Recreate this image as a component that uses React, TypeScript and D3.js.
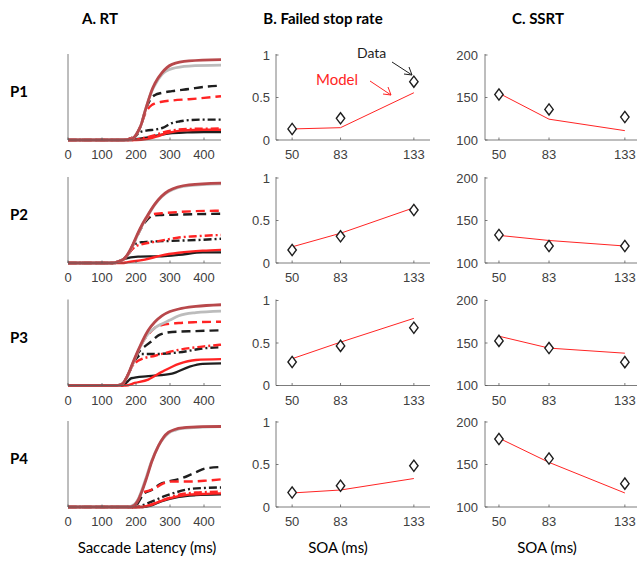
import React from "react";
import * as d3 from "d3";

// ---------- DATA ----------
const rowLabels = ["P1", "P2", "P3", "P4"];
const titles = ["A. RT", "B. Failed stop rate", "C. SSRT"];
const latencyTicks = [0, 100, 200, 300, 400];
const soaTicks = [50, 83, 133];
const rateTicks = [0, 0.5, 1];
const ssrtTicks = [100, 150, 200];

// RT cumulative curves, [latency ms, cumulative proportion]
const p1NoStopData = [[0,0],[160,0],[185,0.01],[196,0.04],[206,0.1],[216,0.19],[226,0.33],[236,0.46],[246,0.57],[256,0.65],[276,0.77],[306,0.84],[356,0.87],[450,0.88]];
const p1NoStopModel = [[0,0],[160,0],[185,0.01],[196,0.04],[206,0.1],[216,0.19],[226,0.33],[236,0.46],[246,0.58],[256,0.67],[276,0.79],[306,0.89],[356,0.93],[450,0.945]];
const p1Soa133Data = [[0,0],[160,0],[196,0.04],[206,0.1],[216,0.19],[226,0.33],[236,0.43],[246,0.5],[256,0.53],[276,0.555],[306,0.575],[356,0.6],[400,0.625],[450,0.64]];
const p1Soa133Model = [[0,0],[160,0],[196,0.04],[206,0.1],[216,0.19],[226,0.3],[236,0.37],[246,0.41],[256,0.43],[276,0.45],[306,0.465],[356,0.48],[400,0.495],[450,0.515]];
const p1Soa83Data = [[0,0],[160,0],[190,0.02],[200,0.05],[210,0.09],[230,0.11],[260,0.125],[280,0.145],[300,0.19],[330,0.22],[360,0.235],[400,0.24],[450,0.24]];
const p1Soa83Model = [[0,0],[190,0],[220,0.02],[250,0.05],[280,0.09],[310,0.115],[350,0.13],[450,0.135]];
const p1Soa50Data = [[0,0],[180,0],[220,0.02],[260,0.05],[300,0.08],[350,0.09],[400,0.095],[450,0.095]];
const p1Soa50Model = [[0,0],[200,0],[230,0.01],[260,0.04],[290,0.08],[320,0.105],[350,0.115],[400,0.12],[450,0.12]];

const p2NoStopData = [[0,0],[130,0],[150,0.02],[165,0.05],[176,0.1],[191,0.21],[206,0.34],[218,0.44],[231,0.53],[256,0.69],[296,0.84],[356,0.91],[450,0.93]];
const p2NoStopModel = [[0,0],[130,0],[150,0.02],[165,0.05],[176,0.106],[191,0.22],[206,0.354],[218,0.45],[231,0.54],[256,0.696],[296,0.85],[356,0.92],[450,0.94]];
const p2Soa133Data = [[0,0],[130,0],[150,0.02],[165,0.05],[176,0.1],[191,0.21],[206,0.34],[218,0.43],[231,0.5],[241,0.54],[251,0.56],[276,0.565],[326,0.57],[376,0.575],[450,0.58]];
const p2Soa133Model = [[0,0],[130,0],[150,0.02],[165,0.05],[176,0.1],[191,0.21],[206,0.34],[218,0.44],[231,0.52],[241,0.56],[251,0.575],[276,0.585],[326,0.6],[376,0.61],[450,0.615]];
const p2Soa83Data = [[0,0],[130,0],[150,0.02],[165,0.05],[176,0.1],[191,0.18],[201,0.23],[216,0.245],[236,0.25],[306,0.26],[376,0.27],[450,0.285]];
const p2Soa83Model = [[0,0],[130,0],[150,0.02],[165,0.05],[176,0.1],[191,0.17],[201,0.2],[216,0.22],[256,0.25],[296,0.28],[326,0.3],[376,0.315],[450,0.33]];
const p2Soa50Data = [[0,0],[140,0],[166,0.05],[206,0.075],[276,0.08],[326,0.095],[396,0.125],[450,0.125]];
const p2Soa50Model = [[0,0],[160,0],[176,0.01],[226,0.04],[276,0.09],[326,0.12],[396,0.145],[450,0.155]];

const p3NoStopData = [[0,0],[145,0],[160,0.02],[176,0.12],[191,0.26],[206,0.4],[221,0.52],[236,0.61],[256,0.68],[276,0.725],[300,0.77],[326,0.82],[376,0.857],[450,0.875]];
const p3NoStopModel = [[0,0],[145,0],[160,0.02],[176,0.124],[191,0.27],[206,0.41],[221,0.54],[236,0.65],[256,0.75],[276,0.82],[300,0.87],[326,0.9],[376,0.93],[450,0.95]];
const p3Soa133Data = [[0,0],[145,0],[160,0.02],[176,0.12],[191,0.26],[206,0.38],[226,0.46],[246,0.52],[266,0.59],[306,0.63],[376,0.64],[450,0.65]];
const p3Soa133Model = [[0,0],[145,0],[160,0.02],[176,0.12],[191,0.26],[206,0.4],[221,0.52],[236,0.6],[256,0.68],[276,0.71],[326,0.735],[376,0.745],[450,0.75]];
const p3Soa83Data = [[0,0],[145,0],[160,0.02],[176,0.12],[191,0.26],[206,0.34],[216,0.37],[256,0.37],[326,0.39],[406,0.44],[450,0.45]];
const p3Soa83Model = [[0,0],[145,0],[160,0.02],[176,0.12],[191,0.24],[206,0.29],[216,0.31],[256,0.35],[326,0.42],[400,0.46],[450,0.48]];
const p3Soa50Data = [[0,0],[160,0],[176,0.05],[186,0.085],[236,0.11],[306,0.14],[356,0.22],[396,0.255],[450,0.26]];
const p3Soa50Model = [[0,0],[170,0],[196,0.03],[236,0.07],[276,0.16],[326,0.255],[376,0.3],[450,0.31]];

const p4NoStopData = [[0,0],[175,0],[195,0.03],[206,0.09],[219,0.22],[231,0.36],[246,0.54],[266,0.72],[281,0.81],[296,0.87],[316,0.905],[336,0.925],[396,0.94],[450,0.945]];
const p4NoStopModel = [[0,0],[180,0],[195,0.02],[206,0.076],[219,0.2],[231,0.34],[246,0.53],[266,0.72],[281,0.82],[296,0.88],[316,0.915],[336,0.93],[396,0.945],[450,0.947]];
const p4Soa133Data = [[0,0],[195,0],[211,0.08],[221,0.15],[246,0.2],[271,0.27],[296,0.3],[336,0.34],[371,0.4],[406,0.455],[450,0.47]];
const p4Soa133Model = [[0,0],[190,0],[206,0.08],[216,0.16],[236,0.19],[256,0.22],[276,0.27],[306,0.3],[356,0.3],[406,0.31],[450,0.325]];
const p4Soa83Data = [[0,0],[200,0],[226,0.03],[256,0.08],[286,0.13],[316,0.17],[356,0.21],[406,0.225],[450,0.23]];
const p4Soa83Model = [[0,0],[210,0],[236,0.015],[276,0.076],[326,0.145],[376,0.17],[450,0.18]];
const p4Soa50Data = [[0,0],[220,0],[246,0.02],[276,0.07],[326,0.12],[376,0.14],[450,0.15]];
const p4Soa50Model = [[0,0],[220,0],[246,0.03],[296,0.1],[356,0.145],[406,0.155],[450,0.16]];

// Failed stop rate per SOA (50, 83, 133)
const rateData = [[0.13, 0.255, 0.686], [0.153, 0.314, 0.624], [0.276, 0.466, 0.68], [0.17, 0.25, 0.485]];
const rateModel = [[0.13, 0.145, 0.556], [0.19, 0.35, 0.65], [0.315, 0.51, 0.79], [0.165, 0.2, 0.335]];
// SSRT per SOA
const ssrtData = [[153.5, 136, 127], [133, 120, 120], [152.5, 144, 127.5], [180, 157, 127.5]];
const ssrtModel = [[155, 124.5, 111], [132.5, 126.5, 120], [158, 144, 138], [181, 152.5, 116.5]];

const rtPanels = [
  [p1NoStopData, p1NoStopModel, p1Soa133Data, p1Soa133Model, p1Soa83Data, p1Soa83Model, p1Soa50Data, p1Soa50Model],
  [p2NoStopData, p2NoStopModel, p2Soa133Data, p2Soa133Model, p2Soa83Data, p2Soa83Model, p2Soa50Data, p2Soa50Model],
  [p3NoStopData, p3NoStopModel, p3Soa133Data, p3Soa133Model, p3Soa83Data, p3Soa83Model, p3Soa50Data, p3Soa50Model],
  [p4NoStopData, p4NoStopModel, p4Soa133Data, p4Soa133Model, p4Soa83Data, p4Soa83Model, p4Soa50Data, p4Soa50Model],
];

// ---------- STYLES ----------
const W = 639, H = 567;
const rowBottoms = [140, 263, 385.5, 507];
const panelH = 85;
const GRAY = "#bcbcbc";
const BROWN = "#b8484b";
const RED = "#ff2424";
const BLACK = "#1e1e1e";
const AXIS = "#5a5a5a";
const TICKTXT = "#404040";
const tickFont = "'Liberation Sans', Arial, sans-serif";
const labelFont = "Lato, 'Open Sans', sans-serif";

// order of drawing: stop curves first, then no-stop data, then no-stop model
const curveStyles: Record<number, { color: string; width: number; dash?: string }> = {
  6: { color: BLACK, width: 2.4 },
  4: { color: BLACK, width: 2.4, dash: "8,3,2,3" },
  2: { color: BLACK, width: 2.4, dash: "9,5" },
  7: { color: RED, width: 2.4 },
  5: { color: RED, width: 2.4, dash: "8,3,2,3" },
  3: { color: RED, width: 2.4, dash: "9,5" },
  0: { color: GRAY, width: 2.8 },
  1: { color: BROWN, width: 2.8 },
};
const drawOrder = [6, 4, 2, 7, 5, 3, 0, 1];

function Diamond({ x, y }: { x: number; y: number }) {
  const w = 4.2, h = 5.6;
  return (
    <path
      d={`M${x},${y - h}L${x + w},${y}L${x},${y + h}L${x - w},${y}Z`}
      fill="white"
      stroke={BLACK}
      strokeWidth={1.4}
    />
  );
}

export default function App() {
  const xA = d3.scaleLinear().domain([0, 450]).range([68, 221]);
  const xB = d3.scaleLinear().domain([39, 144]).range([276, 430]);
  const xC = d3.scaleLinear().domain([40.8, 141]).range([485, 637]);

  return (
    <svg width={W} height={H} style={{ display: "block", position: "absolute", left: 0, top: 0 }}>
      <rect width={W} height={H} fill="white" />
      {/* column titles */}
      <text x={100} y={24} textAnchor="middle" fontFamily={labelFont} fontWeight="bold" fontSize={15}>{titles[0]}</text>
      <text x={323} y={24} textAnchor="middle" fontFamily={labelFont} fontWeight="bold" fontSize={15}>{titles[1]}</text>
      <text x={538} y={24} textAnchor="middle" fontFamily={labelFont} fontWeight="bold" fontSize={15}>{titles[2]}</text>

      {rowLabels.map((lab, r) => {
        const b = rowBottoms[r];
        const yA = d3.scaleLinear().domain([0, 1]).range([b, b - panelH]);
        const yB = d3.scaleLinear().domain([0, 1]).range([b, b - panelH]);
        const yC = d3.scaleLinear().domain([100, 200]).range([b, b - panelH]);
        const lineA = d3.line<number[]>().x((d) => xA(d[0])).y((d) => yA(d[1])).curve(d3.curveMonotoneX);
        const lineB = d3.line<number>().x((_, i) => xB(soaTicks[i])).y((d) => yB(d));
        const lineC = d3.line<number>().x((_, i) => xC(soaTicks[i])).y((d) => yC(d));
        return (
          <g key={lab}>
            <text x={10} y={b - 43} fontFamily={labelFont} fontWeight="bold" fontSize={15}>{lab}</text>

            {/* Panel A */}
            <g>
              {drawOrder.map((ci) => {
                const st = curveStyles[ci];
                return (
                  <path key={ci} d={lineA(rtPanels[r][ci] as number[][]) || ""} fill="none"
                    stroke={st.color} strokeWidth={st.width} strokeDasharray={st.dash} />
                );
              })}
              <line x1={xA(0)} x2={xA(0)} y1={b} y2={b - panelH - 1} stroke={AXIS} strokeWidth={0.8} />
              <line x1={xA(0)} x2={xA(450)} y1={b} y2={b} stroke={AXIS} strokeWidth={0.8} />
              {latencyTicks.map((t) => (
                <g key={t}>
                  <line x1={xA(t)} x2={xA(t)} y1={b} y2={b - 2.5} stroke={AXIS} strokeWidth={0.8} />
                  <text x={xA(t)} y={b + 19} textAnchor="middle" fontFamily={tickFont} fontSize={13} fill={TICKTXT}>{t}</text>
                </g>
              ))}
            </g>

            {/* Panel B */}
            <g>
              <line x1={xB.range()[0]} x2={xB.range()[0]} y1={b} y2={b - panelH - 1} stroke={AXIS} strokeWidth={0.8} />
              <line x1={xB.range()[0]} x2={xB.range()[1]} y1={b} y2={b} stroke={AXIS} strokeWidth={0.8} />
              {soaTicks.map((t) => (
                <g key={t}>
                  <line x1={xB(t)} x2={xB(t)} y1={b} y2={b - 2.5} stroke={AXIS} strokeWidth={0.8} />
                  <text x={xB(t)} y={b + 19} textAnchor="middle" fontFamily={tickFont} fontSize={13} fill={TICKTXT}>{t}</text>
                </g>
              ))}
              {rateTicks.map((t) => (
                <g key={t}>
                  <line x1={xB.range()[0]} x2={xB.range()[0] + 2.5} y1={yB(t)} y2={yB(t)} stroke={AXIS} strokeWidth={0.8} />
                  <text x={xB.range()[0] - 6} y={yB(t) + 4.5} textAnchor="end" fontFamily={tickFont} fontSize={13} fill={TICKTXT}>{t}</text>
                </g>
              ))}
              <path d={lineB(rateModel[r]) || ""} fill="none" stroke={RED} strokeWidth={1} />
              {rateData[r].map((v, i) => <Diamond key={i} x={xB(soaTicks[i])} y={yB(v)} />)}
            </g>

            {/* Panel C */}
            <g>
              <line x1={xC.range()[0]} x2={xC.range()[0]} y1={b} y2={b - panelH - 1} stroke={AXIS} strokeWidth={0.8} />
              <line x1={xC.range()[0]} x2={xC.range()[1]} y1={b} y2={b} stroke={AXIS} strokeWidth={0.8} />
              {soaTicks.map((t) => (
                <g key={t}>
                  <line x1={xC(t)} x2={xC(t)} y1={b} y2={b - 2.5} stroke={AXIS} strokeWidth={0.8} />
                  <text x={xC(t)} y={b + 19} textAnchor="middle" fontFamily={tickFont} fontSize={13} fill={TICKTXT}>{t}</text>
                </g>
              ))}
              {ssrtTicks.map((t) => (
                <g key={t}>
                  <line x1={xC.range()[0]} x2={xC.range()[0] + 2.5} y1={yC(t)} y2={yC(t)} stroke={AXIS} strokeWidth={0.8} />
                  <text x={xC.range()[0] - 7} y={yC(t) + 4.5} textAnchor="end" fontFamily={tickFont} fontSize={13} fill={TICKTXT}>{t}</text>
                </g>
              ))}
              <path d={lineC(ssrtModel[r]) || ""} fill="none" stroke={RED} strokeWidth={1} />
              {ssrtData[r].map((v, i) => <Diamond key={i} x={xC(soaTicks[i])} y={yC(v)} />)}
            </g>
          </g>
        );
      })}

      {/* annotations in B, P1 */}
      <text x={357} y={58} fontFamily={labelFont} fontSize={14} fill={BLACK}>Data</text>
      <line x1={392} y1={62} x2={412} y2={75} stroke={BLACK} strokeWidth={1} />
      <path d="M404,74 L412,75 L409,67" fill="none" stroke={BLACK} strokeWidth={1} />
      <text x={316} y={85} fontFamily={labelFont} fontSize={15} fill={RED}>Model</text>
      <line x1={370} y1={81} x2={391} y2={95} stroke={RED} strokeWidth={1} />
      <path d="M383,94 L391,95 L388,87" fill="none" stroke={RED} strokeWidth={1} />

      {/* bottom labels */}
      <text x={147} y={553} textAnchor="middle" fontFamily={labelFont} fontSize={15}>Saccade Latency (ms)</text>
      <text x={338} y={553} textAnchor="middle" fontFamily={labelFont} fontSize={15}>SOA (ms)</text>
      <text x={547} y={553} textAnchor="middle" fontFamily={labelFont} fontSize={15}>SOA (ms)</text>
    </svg>
  );
}
